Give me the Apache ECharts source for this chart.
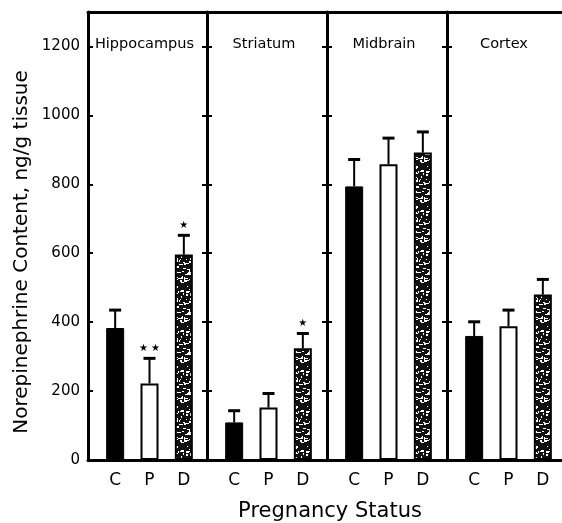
<!DOCTYPE html>
<html lang="en">
  <head>
    <meta charset="UTF-8" />
    <title>Norepinephrine content by pregnancy status</title>
    <script src="https://cdn.jsdelivr.net/npm/echarts@6/dist/echarts.min.js"></script>
    <style>
      html, body { margin: 0; padding: 0; background: #fff; }
      #chart { width: 562px; height: 523px; }
    </style>
  </head>
  <body>
    <div id="chart"></div>
    <script>
      // values (ng/g tissue)
      const regions = ["Hippocampus", "Striatum", "Midbrain", "Cortex"];
      const groups = ["C", "P", "D"];
      const meanC = [383, 109, 794, 360];
      const meanP = [222, 152, 858, 388];
      const meanD = [596, 324, 892, 480];
      const errC = [52, 34, 78, 41];
      const errP = [73, 41, 76, 47];
      const errD = [56, 43, 60, 44];
      const stars = [["", "**", "*"], ["", "", "*"], ["", "", ""], ["", "", ""]];
      const yTicks = { min: 0, max: 1300, interval: 200 };

      const font = "DejaVu Sans";
      const dividers = [88, 207, 327, 447, 567];
      const plotTop = 12, plotBottom = 63;

      // speckled fill for the D bars
      function stipple() {
        const c = document.createElement("canvas");
        c.width = c.height = 40;
        const g = c.getContext("2d");
        g.fillStyle = "#111";
        g.fillRect(0, 0, 40, 40);
        g.fillStyle = "#fff";
        let s = 11;
        const rnd = () => (s = (s * 16807) % 2147483647) / 2147483647;
        for (let i = 0; i < 140; i++) {
          g.fillRect(Math.floor(rnd() * 40), Math.floor(rnd() * 40),
            1 + Math.floor(rnd() * 3), 1 + Math.floor(rnd() * 2));
        }
        return c;
      }
      const speckle = { image: stipple(), repeat: "repeat" };

      const groupStyle = [
        { color: "#000", borderColor: "#000", borderWidth: 1 },
        { color: "#fff", borderColor: "#000", borderWidth: 2 },
        { color: speckle, borderColor: "#000", borderWidth: 2 },
      ];

      const chart = echarts.init(document.getElementById("chart"));

      let grid = [], xAxis = [], yAxis = [], series = [], graphic = [];

      regions.forEach(function (name, i) {
        const d = dividers[i];
        grid.push({ left: d + 10, width: 103, top: plotTop, bottom: plotBottom });
        xAxis.push({
          type: "category", gridIndex: i, data: groups,
          axisLine: { show: false }, axisTick: { show: false },
          axisLabel: { color: "#000", fontFamily: font, fontSize: 17, margin: 12 },
        });
      });

      // left axes (panel borders) then right axes (ticks on the far side)
      regions.forEach(function (name, i) {
        yAxis.push({
          type: "value", gridIndex: i, position: "left", offset: 10,
          min: yTicks.min, max: yTicks.max, interval: yTicks.interval,
          axisLine: { show: true, lineStyle: { color: "#000", width: 3 } },
          axisTick: { show: true, inside: true, length: 5, lineStyle: { color: "#000", width: 2 } },
          axisLabel: {
            show: i === 0, color: "#000", fontFamily: font, fontSize: 15,
            margin: 8, showMaxLabel: false,
            formatter: function (v) { return String(v); },
          },
          splitLine: { show: false },
        });
      });
      regions.forEach(function (name, i) {
        yAxis.push({
          type: "value", gridIndex: i, position: "right",
          offset: dividers[i + 1] - (dividers[i] + 113),
          min: yTicks.min, max: yTicks.max, interval: yTicks.interval,
          axisLine: { show: false },
          axisTick: { show: true, inside: true, length: 5, lineStyle: { color: "#000", width: 2 } },
          axisLabel: { show: false },
          splitLine: { show: false },
        });
      });

      // outer frame: top and bottom lines running off the right edge
      grid.push({ left: 88, width: 500, top: plotTop, bottom: plotBottom });
      ["top", "bottom"].forEach(function (pos) {
        xAxis.push({
          type: "value", gridIndex: 4, position: pos, min: 0, max: 1,
          axisLine: { show: true, onZero: false, lineStyle: { color: "#000", width: 3 } },
          axisTick: { show: false }, axisLabel: { show: false }, splitLine: { show: false },
        });
      });
      yAxis.push({ type: "value", gridIndex: 4, show: false });

      regions.forEach(function (name, i) {
        const means = [meanC[i], meanP[i], meanD[i]];
        const errs = [errC[i], errP[i], errD[i]];
        series.push({
          type: "bar", xAxisIndex: i, yAxisIndex: i, barWidth: 18,
          data: means.map(function (v, k) { return { value: v, itemStyle: groupStyle[k] }; }),
          z: 2,
        });
        series.push({
          type: "custom", xAxisIndex: i, yAxisIndex: i, z: 3,
          data: means.map(function (v, k) { return [k, v, errs[k]]; }),
          renderItem: function (params, api) {
            const base = api.coord([api.value(0), api.value(1)]);
            const top = api.coord([api.value(0), api.value(1) + api.value(2)]);
            const mark = stars[i][params.dataIndex];
            const kids = [
              { type: "line", shape: { x1: base[0], y1: base[1], x2: top[0], y2: top[1] },
                style: { stroke: "#000", lineWidth: 2 } },
              { type: "line", shape: { x1: top[0] - 6, y1: top[1], x2: top[0] + 6, y2: top[1] },
                style: { stroke: "#000", lineWidth: 3 } },
            ];
            if (mark) {
              kids.push({
                type: "text", x: top[0], y: top[1] - 10,
                style: {
                  text: mark.split("").map(function () { return "\u2605"; }).join(" "),
                  fill: "#000", fontSize: 10, fontFamily: font,
                  align: "center", verticalAlign: "middle",
                },
              });
            }
            return { type: "group", children: kids };
          },
        });
        graphic.push({
          type: "text", x: (dividers[i] + dividers[i + 1]) / 2 - 3, y: 44,
          style: {
            text: name, fill: "#000", fontFamily: font, fontSize: 14.5,
            align: "center", verticalAlign: "middle",
          },
        });
      });

      graphic.push({
        type: "text", x: 330, y: 512,
        style: {
          text: "Pregnancy Status", fill: "#000", fontFamily: font, fontSize: 21,
          align: "center", verticalAlign: "middle",
        },
      });
      graphic.push({
        type: "text", x: 22, y: 252, rotation: Math.PI / 2,
        style: {
          text: "Norepinephrine Content, ng/g tissue", fill: "#000",
          fontFamily: font, fontSize: 20, align: "center", verticalAlign: "middle",
        },
      });

      chart.setOption({
        animation: false,
        grid: grid,
        xAxis: xAxis,
        yAxis: yAxis,
        series: series,
        graphic: graphic,
      });
    </script>
  </body>
</html>
